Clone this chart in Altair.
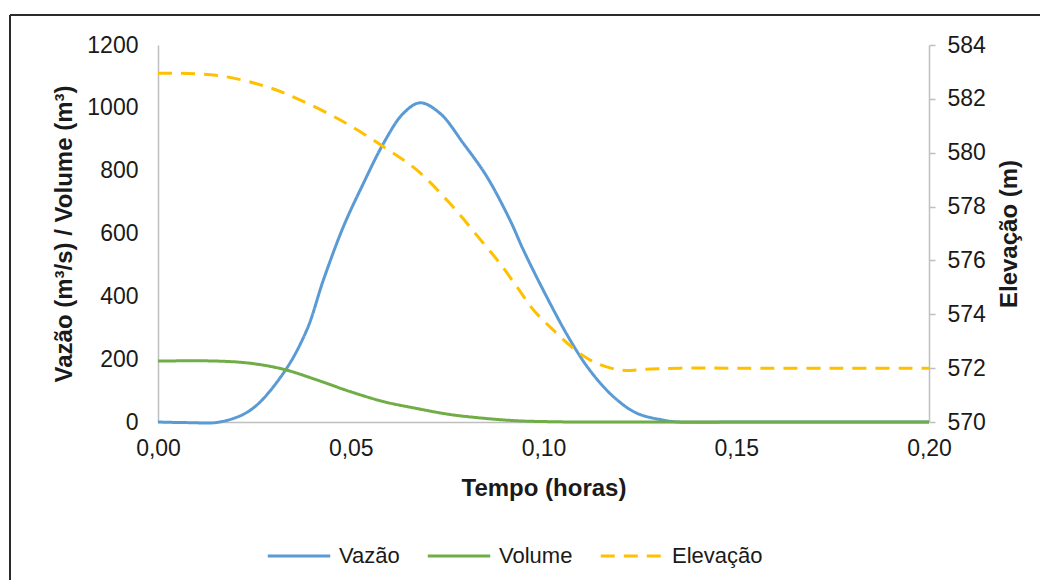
import altair as alt
import pandas as pd

# ---- data ----
vazao_t = [0.0, 0.008, 0.016, 0.024, 0.0325, 0.0386, 0.0429, 0.0481, 0.0533, 0.0585,
           0.0636, 0.068, 0.0732, 0.0792, 0.0853, 0.0913, 0.0948, 0.1008, 0.1069, 0.112,
           0.1181, 0.1242, 0.1311, 0.135, 0.15, 0.175, 0.2]
vazao_v = [0, -2, 0, 38, 155, 293, 452, 622, 760, 887,
           982, 1016, 982, 887, 781, 643, 547, 399, 261, 165,
           81, 28, 6, 0, 0, 0, 0]

volume_t = [0.0, 0.0152, 0.0239, 0.0325, 0.0412, 0.0498, 0.0585, 0.0671, 0.0757,
            0.0844, 0.093, 0.1017, 0.11, 0.15, 0.2]
volume_v = [194, 194, 187, 168, 134, 97, 65, 43, 24, 12, 4, 1, 0, 0, 0]

elev_t = [0.0, 0.015, 0.0282, 0.0368, 0.0481, 0.0585, 0.0671, 0.0757, 0.0844, 0.0887,
          0.0931, 0.0974, 0.1025, 0.1077, 0.1129, 0.1198, 0.1268, 0.1354, 0.15, 0.175, 0.2]
elev_v = [582.95, 582.88, 582.45, 581.96, 581.15, 580.22, 579.36, 578.12, 576.64, 575.89,
          575.02, 574.16, 573.42, 572.74, 572.24, 571.93, 571.96, 572.0, 572.0, 572.0, 572.0]

series_names = ["Vazão", "Volume", "Elevação"]
series_colors = ["#5B9BD5", "#70AD47", "#FFC000"]
series_dashes = [[1, 0], [1, 0], [14, 9]]

x_ticks = [0.0, 0.05, 0.10, 0.15, 0.20]
left_ticks = [0, 200, 400, 600, 800, 1000, 1200]
right_ticks = [570, 572, 574, 576, 578, 580, 582, 584]

left_df = pd.DataFrame({
    "t": vazao_t + volume_t,
    "val": vazao_v + volume_v,
    "serie": [series_names[0]] * len(vazao_t) + [series_names[1]] * len(volume_t),
})
right_df = pd.DataFrame({"t": elev_t, "val": elev_v, "serie": [series_names[2]] * len(elev_t)})

FONT = "Liberation Sans"
TXT = "#1a1a1a"
AX = "#BFBFBF"

legend = alt.Legend(
    orient="none", legendX=108, legendY=478, direction="horizontal", title=None,
    symbolType="stroke", symbolSize=3900, symbolStrokeWidth=3,
    labelFont=FONT, labelFontSize=22, labelColor=TXT, labelOffset=7,
    columnPadding=21,
)
color = alt.Color("serie:N", scale=alt.Scale(domain=series_names, range=series_colors),
                  legend=legend, title=None)
dash = alt.StrokeDash("serie:N", scale=alt.Scale(domain=series_names, range=series_dashes),
                      legend=legend, title=None)

x_enc = alt.X("t:Q", scale=alt.Scale(domain=[0, 0.2], nice=False, zero=False),
              axis=alt.Axis(values=x_ticks, title="Tempo (horas)", grid=False, ticks=False,
                            labelExpr="replace(format(datum.value, '.2f'), '.', ',')",
                            labelFlush=False,
                            labelPadding=15, titlePadding=16, domainColor=AX, domainWidth=1.5))

left = alt.Chart(left_df).mark_line(strokeWidth=3, interpolate="catmull-rom").encode(
    x=x_enc,
    y=alt.Y("val:Q", scale=alt.Scale(domain=[0, 1200], nice=False),
            axis=alt.Axis(values=left_ticks, format="d", title="Vazão (m³/s) / Volume (m³)",
                          orient="left", grid=False, ticks=False, labelFlush=False,
                          labelPadding=20, titlePadding=10,
                          domainColor=AX, domainWidth=1.5)),
    color=color,
    strokeDash=dash,
)

right = alt.Chart(right_df).mark_line(strokeWidth=3, interpolate="catmull-rom").encode(
    x=x_enc,
    y=alt.Y("val:Q", scale=alt.Scale(domain=[570, 584], nice=False, zero=False),
            axis=alt.Axis(values=right_ticks, title="Elevação (m)", orient="right",
                          grid=False, ticks=True, tickSize=6, tickColor=AX, tickWidth=1.5,
                          labelFlush=False, labelPadding=12, titlePadding=12,
                          titleAngle=270, titleBaseline="top",
                          domainColor=AX, domainWidth=1.5)),
    color=color,
    strokeDash=dash,
)

frame_df = pd.DataFrame({"k": [0]})
frame_top = alt.Chart(frame_df).mark_rule(color="#2b2b2b", strokeWidth=2).encode(
    x=alt.value(-148), x2=alt.value(1100), y=alt.value(-30))
frame_left = alt.Chart(frame_df).mark_rule(color="#2b2b2b", strokeWidth=2).encode(
    x=alt.value(-148), y=alt.value(-30), y2=alt.value(700))

chart = alt.layer(frame_top, frame_left, left, right).resolve_scale(
    y="independent"
).properties(
    width=771, height=377,
    padding={"left": 150, "top": 37, "right": 111, "bottom": 158},
    autosize=alt.AutoSizeParams(type="none"),
).configure_view(stroke=None).configure_axis(
    labelFont=FONT, titleFont=FONT, labelFontSize=23, titleFontSize=24,
    labelColor=TXT, titleColor=TXT, titleFontWeight="bold",
)

chart.save("out.html", embed_options={"renderer": "svg", "actions": False})
